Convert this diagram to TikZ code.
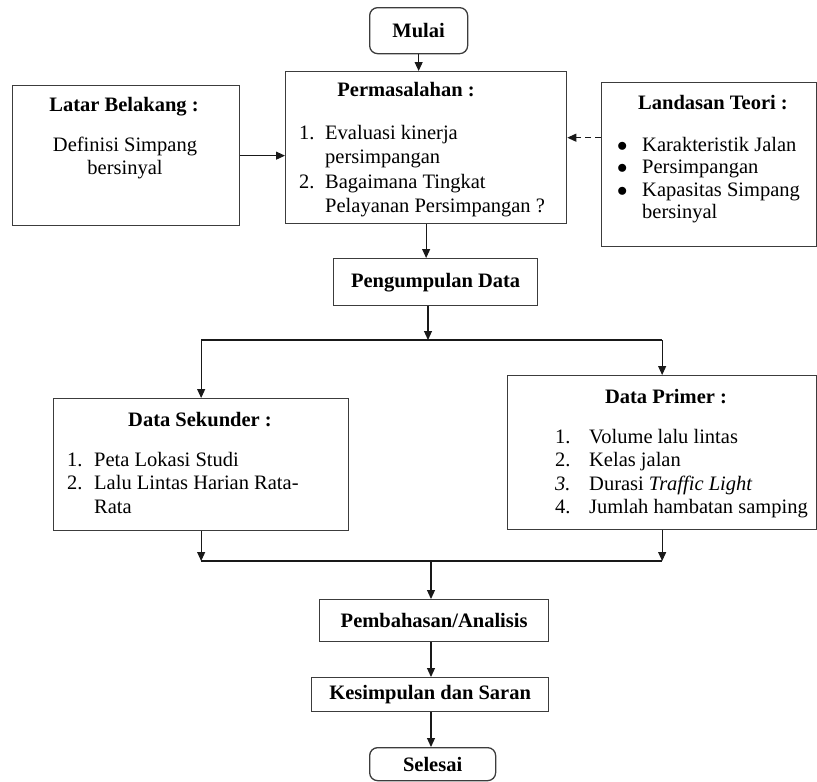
\documentclass[tikz,border=0pt]{standalone}
\usepackage{fontspec}
\setmainfont{Liberation Serif}
\usetikzlibrary{arrows.meta,positioning,calc}
\definecolor{Bingkai}{RGB}{60,60,60}
\definecolor{Garis}{RGB}{25,25,25}
\newcommand{\butir}{\makebox[25pt][l]{$\bullet$}}

\begin{document}
\begin{tikzpicture}[x=1pt, y=-1pt, font=\fontsize{20.5}{23.5}\selectfont,
  kotak/.style={draw=Bingkai, line width=1.3pt, inner sep=0pt, anchor=north west},
  judul/.style={font=\fontsize{20.5}{23.5}\selectfont\bfseries, inner sep=0pt},
  isi/.style={align=left, inner sep=0pt, anchor=north west},
  panah/.style={-{Triangle[length=9pt,width=8pt]}, line width=1.1pt, Garis},
  garis/.style={line width=1.1pt, Garis}]
        \useasboundingbox (0,0) rectangle (817,782);

        % kotak bagian atas
        \node[kotak, rounded corners=8pt, minimum width=98pt, minimum height=46pt, font=\fontsize{20.5}{23.5}\selectfont\bfseries] (mulai) at (369,7) {Mulai};
        \node[kotak, minimum width=281pt, minimum height=152pt] (perm) at (285,71) {};
        \node[kotak, minimum width=227pt, minimum height=140pt] (latar) at (12,85) {};
        \node[kotak, minimum width=215pt, minimum height=164pt] (landasan) at (601,82) {};

        \node[judul] (permJudul) at (406,90) {Permasalahan :};
        \node[isi, font=\fontsize{20.5}{24.5}\selectfont] (permIsi) at (299,125)
          {\makebox[26pt][l]{1.}Evaluasi kinerja\\ \hspace*{26pt}persimpangan\\
           \makebox[26pt][l]{2.}Bagaimana Tingkat\\ \hspace*{26pt}Pelayanan Persimpangan ?};
        \node[judul] (latarJudul) at (124,107) {Latar Belakang :};
        \node[align=center, inner sep=0pt] (latarIsi) at (125,158) {Definisi Simpang\\bersinyal};
        \node[judul] (landasanJudul) at (713,103) {Landasan Teori :};
        \node[isi, font=\fontsize{20.5}{22.5}\selectfont] (landasanIsi) at (617,137)
          {\butir Karakteristik Jalan\\ \butir Persimpangan\\
           \butir Kapasitas Simpang\\ \hspace*{25pt}bersinyal};

        % pengumpulan dan data
        \node[kotak, minimum width=204pt, minimum height=47pt, font=\fontsize{20.5}{23.5}\selectfont\bfseries] (kumpul) at (333,258) {Pengumpulan Data};
        \node[kotak, minimum width=295pt, minimum height=132pt] (sekunder) at (53,398) {};
        \node[kotak, minimum width=309pt, minimum height=154pt] (primer) at (507,375) {};

        \node[judul] (sekunderJudul) at (200,420) {Data Sekunder :};
        \node[isi] (sekunderIsi) at (67,452)
          {\makebox[27pt][l]{1.}Peta Lokasi Studi\\ \makebox[27pt][l]{2.}Lalu Lintas Harian Rata-\\ \hspace*{27pt}Rata};
        \node[judul] (primerJudul) at (666,397) {Data Primer :};
        \node[isi] (primerIsi) at (555,429)
          {\makebox[34pt][l]{1.}Volume lalu lintas\\ \makebox[34pt][l]{2.}Kelas jalan\\
           \makebox[34pt][l]{\textit{3.}}Durasi \textit{Traffic Light}\\ \makebox[34pt][l]{4.}Jumlah hambatan samping};

        % kotak bagian bawah
        \node[kotak, minimum width=229pt, minimum height=42pt, font=\fontsize{20.5}{23.5}\selectfont\bfseries] (bahas) at (319,599) {Pembahasan/Analisis};
        \node[kotak, minimum width=237pt, minimum height=34pt, font=\fontsize{20.5}{23.5}\selectfont\bfseries] (simpul) at (311,677) {Kesimpulan dan Saran};
        \node[kotak, rounded corners=8pt, minimum width=126pt, minimum height=33pt, font=\fontsize{20.5}{23.5}\selectfont\bfseries] (selesai) at (369,747) {Selesai};

        \coordinate (cabang) at (428,340);
        \coordinate (gabung) at (431,561);

        \draw[panah] (mulai.south) -- (mulai.south |- perm.north);
        \draw[panah] (latar.east) -- (latar.east -| perm.west);
        \draw[panah, dash pattern=on 6pt off 4pt] (landasan.166) -- (landasan.166 -| perm.east);
        \draw[panah] (perm.south) -- (perm.south |- kumpul.north);
        \draw[panah] (kumpul.south -| cabang) -- (cabang);
        \draw[garis] (cabang -| sekunder.north) -- (cabang -| primer.north);
        \draw[panah] (cabang -| sekunder.north) -- (sekunder.north);
        \draw[panah] (cabang -| primer.north) -- (primer.north);
        \draw[panah] (sekunder.south) -- (sekunder.south |- gabung);
        \draw[panah] (primer.south) -- (primer.south |- gabung);
        \draw[garis] (sekunder.south |- gabung) -- (primer.south |- gabung);
        \draw[panah] (gabung) -- (gabung |- bahas.north);
        \draw[panah] (bahas.south -| gabung) -- (gabung |- simpul.north);
        \draw[panah] (simpul.south -| gabung) -- (gabung |- selesai.north);
      \end{tikzpicture}
\end{document}
